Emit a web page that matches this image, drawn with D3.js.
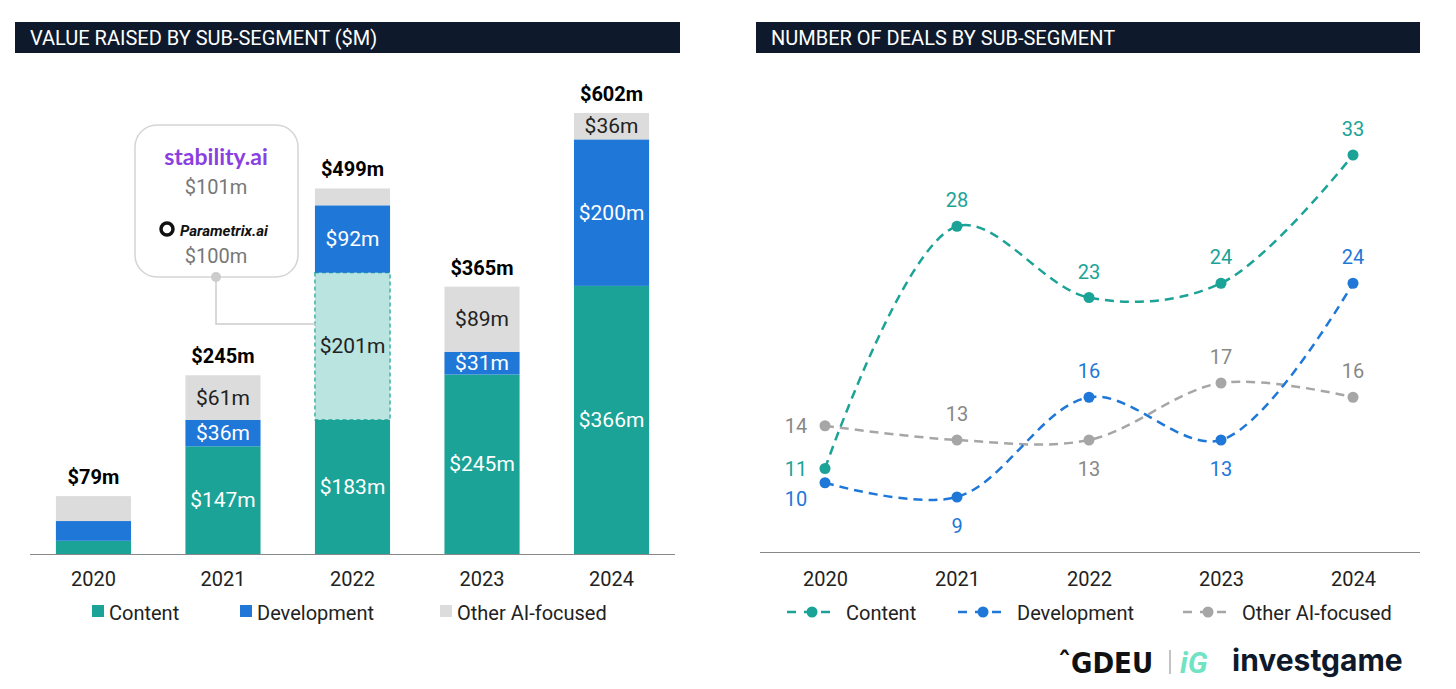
<!DOCTYPE html><html><head><meta charset="utf-8"><script src="https://cdn.jsdelivr.net/npm/d3@7"></script>
<style>body{margin:0;background:#fff;font-family:Roboto,"Liberation Sans",sans-serif}</style></head><body><svg id="c" width="1456" height="689"></svg>
<script>
const years=["2020","2021","2022","2023","2024"];
const content=[18,147,183,245,366];
const contentHighlight=[0,0,201,0,0];
const development=[27,36,92,31,200];
const other=[34,61,23,89,36];
const totals=["$79m","$245m","$499m","$365m","$602m"];
const dealsContent=[11,28,23,24,33];
const dealsDev=[10,9,16,13,24];
const dealsOther=[14,13,13,17,16];
const C={content:"#1aa396",light:"#b9e4df",dev:"#1f78d8",other:"#dcdcdc"};
const svg=d3.select("#c");
[[15,665,"VALUE RAISED BY SUB-SEGMENT ($M)"],[756,664,"NUMBER OF DEALS BY SUB-SEGMENT"]].forEach(([x,w,t])=>{
 svg.append("rect").attr("x",x).attr("y",22).attr("width",w).attr("height",31).attr("fill","#0e1a2b");
 svg.append("text").attr("x",x+15).attr("y",45).attr("fill","#fff").attr("font-size",20).text(t);});
const x=d3.scaleBand().domain(years).range([30,675]).paddingInner(0.42).paddingOuter(0.2);
const y=d3.scaleLinear().domain([0,602]).range([554,113]);
const g=svg.append("g");
years.forEach((yr,i)=>{
 const segs=[["content",content[i],C.content,"#fff"],["light",contentHighlight[i],C.light,"#222"],["dev",development[i],C.dev,"#fff"],["other",other[i],C.other,"#222"]];
 let base=0;
 segs.forEach(([k,v,col,tc])=>{ if(!v)return;
  const r=g.append("rect").attr("x",x(yr)).attr("width",x.bandwidth()).attr("y",y(base+v)).attr("height",y(base)-y(base+v)).attr("fill",col);
  if(k==="light") r.attr("stroke",C.content).attr("stroke-dasharray","4,3").attr("stroke-width",1.2);
  if(i>0 && !(i===2&&k==="other")) g.append("text").attr("x",x(yr)+x.bandwidth()/2).attr("y",y(base+v/2)+7).attr("text-anchor","middle").attr("fill",tc).attr("font-size",21).text("$"+v+"m");
  base+=v;});
 g.append("text").attr("x",x(yr)+x.bandwidth()/2).attr("y",y(base)-12).attr("text-anchor","middle").attr("font-weight","bold").attr("font-size",20).text(totals[i]);
});
g.append("line").attr("x1",30).attr("x2",675).attr("y1",554.5).attr("y2",554.5).attr("stroke","#888");
g.append("g").attr("transform","translate(0,554)").call(d3.axisBottom(x).tickSize(0).tickPadding(18)).call(a=>{a.select(".domain").remove();a.selectAll("text").attr("font-size",20).attr("fill","#222").attr("font-family","Roboto");});
svg.append("rect").attr("x",135).attr("y",125).attr("width",163).attr("height",152).attr("rx",22).attr("fill","#fff").attr("stroke","#d5d5d5").attr("stroke-width",1.5);
svg.append("text").attr("x",216).attr("y",165).attr("text-anchor","middle").attr("font-size",23).attr("font-weight","bold").attr("fill","#8a3fe0").attr("font-family","Lato").text("stability.ai");
svg.append("text").attr("x",216).attr("y",194).attr("text-anchor","middle").attr("font-size",20).attr("fill","#777").text("$101m");
svg.append("circle").attr("cx",167).attr("cy",229).attr("r",6).attr("fill","none").attr("stroke","#111").attr("stroke-width",3.5);
svg.append("text").attr("x",180).attr("y",236).attr("font-size",15).attr("font-style","italic").attr("font-weight","bold").attr("fill","#111").text("Parametrix.ai");
svg.append("text").attr("x",216).attr("y",263).attr("text-anchor","middle").attr("font-size",20).attr("fill","#777").text("$100m");
svg.append("circle").attr("cx",216).attr("cy",277).attr("r",5).attr("fill","#ccc");
svg.append("path").attr("d","M216,277V324H316").attr("fill","none").attr("stroke","#ccc").attr("stroke-width",1.5);
[[92,C.content,"Content"],[240,C.dev,"Development"],[440,C.other,"Other AI-focused"]].forEach(([lx,c,t])=>{
 svg.append("rect").attr("x",lx).attr("y",605).attr("width",12).attr("height",12).attr("fill",c);
 svg.append("text").attr("x",lx+17).attr("y",620).attr("font-size",20).attr("fill","#222").text(t);});
const x2=d3.scalePoint().domain(years).range([825,1353]);
const y2=d3.scaleLinear().domain([9,33]).range([497,155]);
svg.append("line").attr("x1",760).attr("x2",1420).attr("y1",552.5).attr("y2",552.5).attr("stroke","#888");
svg.append("g").attr("transform","translate(0,552)").call(d3.axisBottom(x2).tickSize(0).tickPadding(20)).call(a=>{a.select(".domain").remove();a.selectAll("text").attr("font-size",20).attr("fill","#222").attr("font-family","Roboto");});
const line=d3.line().x((d,i)=>x2(years[i])).y(d=>y2(d)).curve(d3.curveCatmullRom.alpha(0.5));
const series=[[dealsOther,"#a6a6a6","#888",[-1,-1,1,-1,-1]],[dealsDev,C.dev,C.dev,[1,1,-1,1,-1]],[dealsContent,C.content,C.content,[1,-1,-1,-1,-1]]];
series.forEach(([d,c,tc,pos])=>{
 svg.append("path").attr("d",line(d)).attr("fill","none").attr("stroke",c).attr("stroke-width",2.5).attr("stroke-dasharray","9,6");
 d.forEach((v,i)=>{
  svg.append("circle").attr("cx",x2(years[i])).attr("cy",y2(v)).attr("r",5.5).attr("fill",c);
  let lx=x2(years[i]),ly=y2(v)+(pos[i]<0?-19:36);
  if(i===0){lx-=29;ly=y2(v)+7+(d===dealsDev?16:0);}
  svg.append("text").attr("x",lx).attr("y",ly).attr("text-anchor","middle").attr("font-size",20).attr("fill",tc).text(v);
 });
});
[[787,C.content,"Content"],[958,C.dev,"Development"],[1183,"#a6a6a6","Other AI-focused"]].forEach(([lx,c,t])=>{
 svg.append("line").attr("x1",lx).attr("x2",lx+50).attr("y1",612).attr("y2",612).attr("stroke",c).attr("stroke-width",2.5).attr("stroke-dasharray","9,8");
 svg.append("circle").attr("cx",lx+25).attr("cy",612).attr("r",5.5).attr("fill",c);
 svg.append("text").attr("x",lx+59).attr("y",620).attr("font-size",20).attr("fill","#222").text(t);});
svg.append("text").attr("x",1058).attr("y",673).attr("font-size",29).attr("font-weight","bold").attr("font-family","DejaVu Sans Condensed").attr("fill","#111").text("ˆGDEU");
svg.append("line").attr("x1",1170).attr("x2",1170).attr("y1",650).attr("y2",674).attr("stroke","#888");
svg.append("text").attr("x",1180).attr("y",673).attr("font-size",30).attr("font-weight","bold").attr("font-style","italic").attr("fill","#6fe3c4").text("iG");
svg.append("text").attr("x",1232).attr("y",671).attr("font-size",30).attr("font-weight","bold").attr("fill","#0e1a2b").attr("font-family","Inter").text("investgame");
</script></body></html>
